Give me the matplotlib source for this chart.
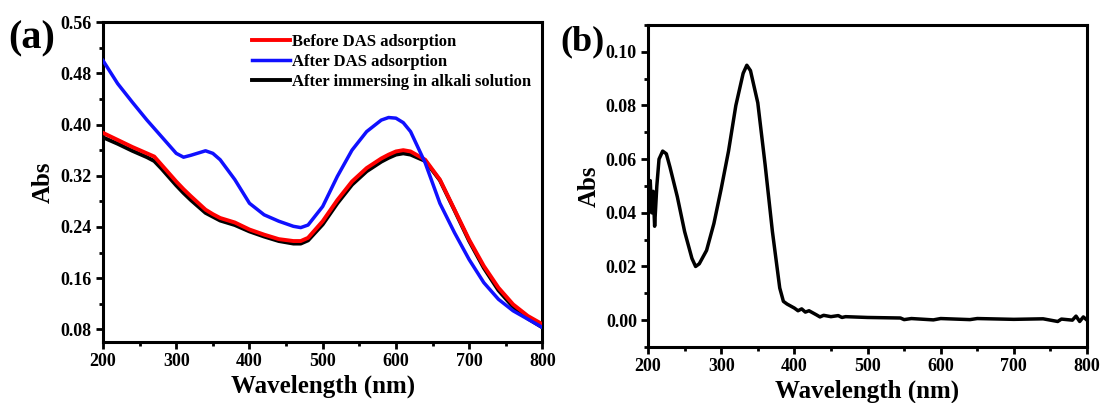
import matplotlib.pyplot as plt
from matplotlib.ticker import MultipleLocator

plt.rcParams['font.family'] = ['Liberation Serif', 'DejaVu Serif']
plt.rcParams['font.weight'] = 'bold'

# (a) UV-vis spectra of the film
wl_a = [200, 220, 240, 260, 270, 280, 300, 310, 320, 340, 350, 360, 380, 400,
        420, 440, 460, 470, 480, 500, 520, 540, 560, 580, 590, 600, 610, 620,
        640, 660, 680, 700, 720, 740, 760, 780, 800]
before_das = [0.387, 0.376, 0.365, 0.355, 0.350, 0.337, 0.311, 0.299, 0.288,
              0.267, 0.260, 0.254, 0.247, 0.236, 0.228, 0.221, 0.218, 0.218,
              0.223, 0.249, 0.282, 0.311, 0.332, 0.347, 0.353, 0.358, 0.360,
              0.358, 0.345, 0.314, 0.267, 0.220, 0.179, 0.145, 0.119, 0.101,
              0.088]
after_das = [0.500, 0.464, 0.435, 0.407, 0.394, 0.381, 0.355, 0.349, 0.352,
             0.359, 0.355, 0.345, 0.314, 0.277, 0.259, 0.249, 0.241, 0.239,
             0.243, 0.272, 0.319, 0.360, 0.389, 0.407, 0.411, 0.410, 0.403,
             0.389, 0.340, 0.277, 0.231, 0.189, 0.153, 0.127, 0.109, 0.096,
             0.083]
after_alkali = [0.380, 0.370, 0.359, 0.349, 0.343, 0.331, 0.305, 0.293, 0.282,
                0.262, 0.256, 0.250, 0.243, 0.233, 0.225, 0.218, 0.214, 0.214,
                0.219, 0.244, 0.277, 0.306, 0.327, 0.342, 0.348, 0.353, 0.355,
                0.353, 0.343, 0.313, 0.266, 0.218, 0.176, 0.141, 0.115, 0.097,
                0.083]

# (b) spectrum of the released DAS
wl_b = [200, 202, 203, 205, 207, 209, 212, 215, 220, 225, 230, 240, 250, 260,
        265, 270, 280, 290, 300, 310, 320, 330, 335, 340, 350, 360, 370, 380,
        385, 390, 400, 405, 410, 415, 420, 430, 435, 440, 450, 460, 465, 470,
        500, 545, 550, 560, 590, 600, 640, 650, 700, 740, 760, 765, 780, 785,
        790, 795, 800]
abs_b = [0.050, 0.046, 0.052, 0.040, 0.048, 0.035, 0.050, 0.060, 0.063, 0.062,
         0.057, 0.046, 0.033, 0.023, 0.020, 0.021, 0.026, 0.036, 0.049, 0.063,
         0.080, 0.092, 0.095, 0.093, 0.081, 0.058, 0.033, 0.012, 0.007, 0.006,
         0.0045, 0.0035, 0.0042, 0.0030, 0.0035, 0.0020, 0.0012, 0.0018,
         0.0013, 0.0017, 0.0010, 0.0013, 0.0010, 0.0008, 0.0002, 0.0006,
         0.0001, 0.0006, 0.0002, 0.0006, 0.0003, 0.0005, -0.0005, 0.0004,
         0.0, 0.0015, -0.0005, 0.0012, 0.0]

fig = plt.figure(figsize=(11.04, 4.03), dpi=100)
ax1 = fig.add_axes([0.0933, 0.151, 0.398, 0.794])
ax2 = fig.add_axes([0.587, 0.139, 0.3976, 0.799])

ax1.plot(wl_a, after_alkali, color='black', lw=2.8, zorder=2)
ax1.plot(wl_a, before_das, color='#ff0000', lw=2.8, zorder=3,
         label='Before DAS adsorption')
ax1.plot(wl_a, after_das, color='#1010ff', lw=2.5, zorder=4,
         label='After DAS adsorption')
ax1.plot([], [], color='black', lw=2.8, label='After immersing in alkali solution')
ax1.set_xlim(200, 800)
ax1.set_ylim(0.06, 0.56)
ax1.yaxis.set_major_locator(MultipleLocator(0.08))
ax1.yaxis.set_minor_locator(MultipleLocator(0.04))
ax1.set_yticks([0.08, 0.16, 0.24, 0.32, 0.40, 0.48, 0.56])
ax1.legend(loc='upper right', frameon=False, handlelength=2.3,
           handletextpad=0.1, labelspacing=0.25, borderaxespad=0.3,
           prop={'weight': 'bold', 'size': 12})
ax1.text(-0.215, 1.005, '(a)', transform=ax1.transAxes, fontsize=29,
         fontweight='bold', va='top')

ax2.plot(wl_b, abs_b, color='black', lw=2.5)
ax2.set_xlim(200, 800)
ax2.set_ylim(-0.01, 0.11)
ax2.yaxis.set_major_locator(MultipleLocator(0.02))
ax2.yaxis.set_minor_locator(MultipleLocator(0.01))
ax2.text(-0.2, 1.0, '(b)', transform=ax2.transAxes, fontsize=26,
         fontweight='bold', va='top')

for ax in (ax1, ax2):
    ax.xaxis.set_major_locator(MultipleLocator(100))
    ax.xaxis.set_minor_locator(MultipleLocator(50))
    ax.set_xlabel('Wavelength (nm)', fontsize=18, fontweight='bold', labelpad=3)
    ax.set_ylabel('Abs', fontsize=18, fontweight='bold', labelpad=4)
    ax.tick_params(which='major', direction='out', length=5, width=2,
                   labelsize=13, pad=3)
    ax.tick_params(which='minor', direction='out', length=3, width=2)
    for s in ax.spines.values():
        s.set_linewidth(2.2)
    ax.yaxis.set_major_formatter(plt.FuncFormatter(lambda v, p: f'{v:.2f}'))

fig.savefig('out.png', dpi=100)
